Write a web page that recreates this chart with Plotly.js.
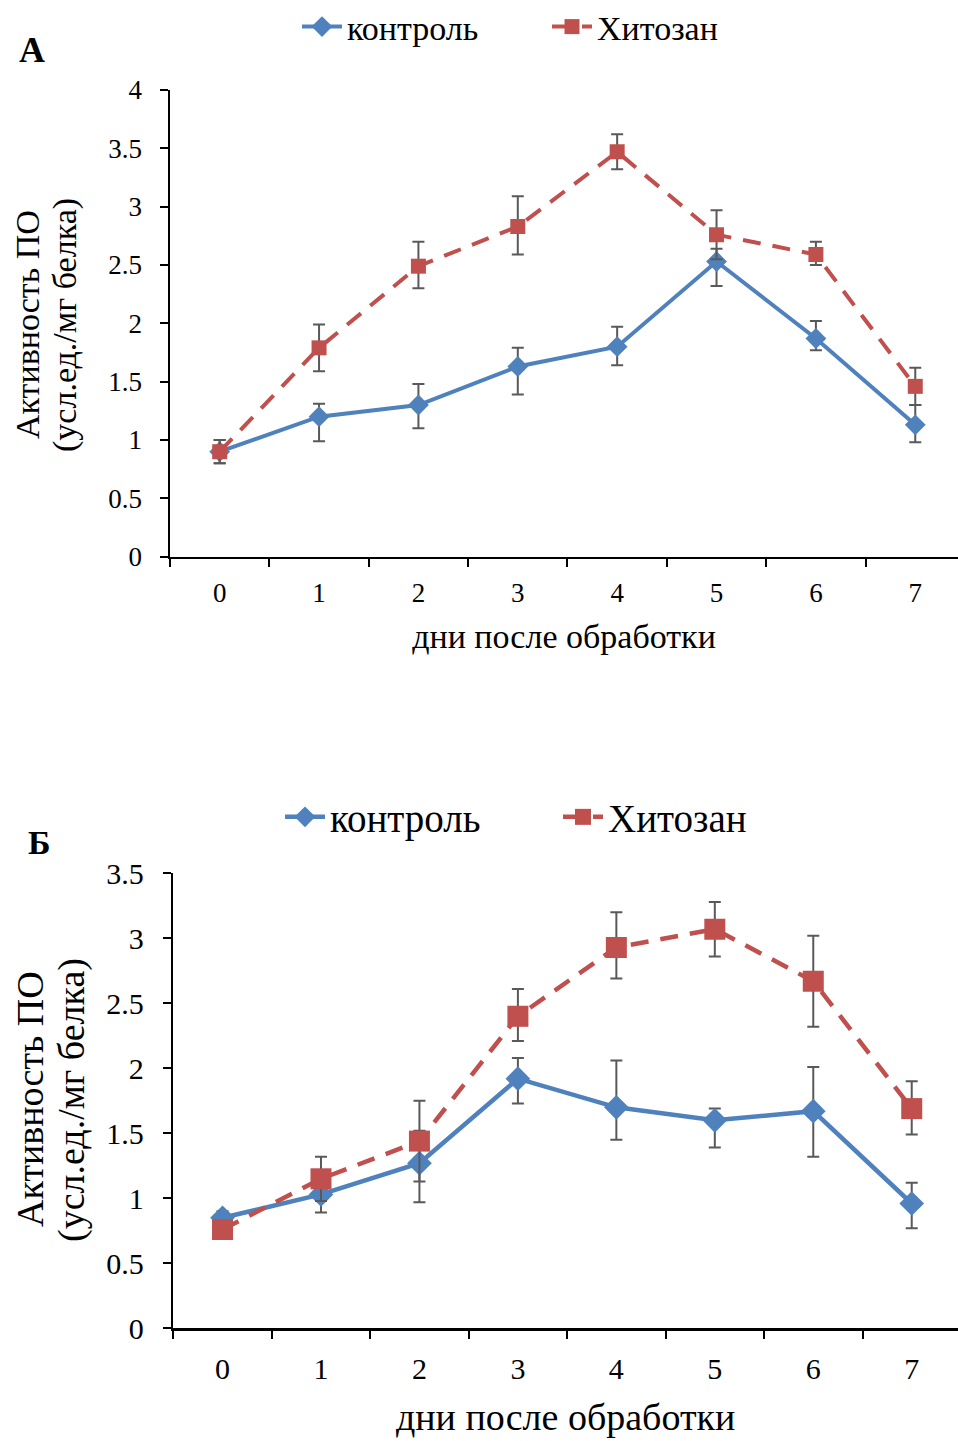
<!DOCTYPE html>
<html>
<head>
<meta charset="utf-8">
<script src="https://cdn.plot.ly/plotly-3.0.1.min.js"></script>
<style>html,body{margin:0;padding:0;background:#fff}#chart{width:958px;height:1441px}</style>
</head>
<body>
<div id="chart"></div>
<script>
// ---- data ----
var days = ['0','1','2','3','4','5','6','7'];

// Panel A
var ctrlA      = [0.90, 1.20, 1.30, 1.63, 1.80, 2.53, 1.87, 1.13];
var ctrlAplus  = [0.10, 0.11, 0.18, 0.16, 0.17, 0.11, 0.15, 0.17];
var ctrlAminus = [0.10, 0.21, 0.20, 0.24, 0.16, 0.21, 0.10, 0.15];
var chitA      = [0.90, 1.79, 2.49, 2.83, 3.47, 2.76, 2.59, 1.46];
var chitAplus  = [0.10, 0.20, 0.21, 0.26, 0.15, 0.21, 0.11, 0.16];
var chitAminus = [0.10, 0.20, 0.19, 0.24, 0.15, 0.21, 0.09, 0.16];

// Panel B
var ctrlB      = [0.85, 1.03, 1.27, 1.92, 1.70, 1.60, 1.67, 0.96];
var ctrlBplus  = [0.05, 0.14, 0.25, 0.16, 0.36, 0.09, 0.34, 0.16];
var ctrlBminus = [0.05, 0.14, 0.30, 0.19, 0.25, 0.21, 0.35, 0.19];
var chitB      = [0.76, 1.15, 1.44, 2.40, 2.93, 3.07, 2.67, 1.69];
var chitBplus  = [0.05, 0.17, 0.31, 0.21, 0.27, 0.21, 0.35, 0.21];
var chitBminus = [0.05, 0.17, 0.31, 0.19, 0.24, 0.21, 0.35, 0.20];

var nameCtrl = 'контроль';
var nameChit = 'Хитозан';
var xTitle = 'дни после обработки';
var yTitle1 = 'Активность ПО';
var yTitle2 = '(усл.ед./мг белка)';

// ---- styles ----
var BLUE = '#4F81BD', RED = '#C0504D', ERR = '#595959';
var FONT = '"Liberation Serif", "Times New Roman", serif';

function err(plus, minus){
  return {type:'data', symmetric:false, array:plus, arrayminus:minus,
          color:ERR, thickness:2, width:6};
}

var traces = [
  {x:days, y:ctrlA, xaxis:'x', yaxis:'y', name:nameCtrl, mode:'lines+markers',
   line:{color:BLUE, width:4}, marker:{symbol:'diamond', size:16, color:BLUE},
   error_y:err(ctrlAplus, ctrlAminus), legend:'legend'},
  {x:days, y:chitA, xaxis:'x', yaxis:'y', name:nameChit, mode:'lines+markers',
   line:{color:RED, width:4, dash:'18px,12px'}, marker:{symbol:'square', size:15, color:RED},
   error_y:err(chitAplus, chitAminus), legend:'legend'},
  {x:days, y:ctrlB, xaxis:'x2', yaxis:'y2', name:nameCtrl, mode:'lines+markers',
   line:{color:BLUE, width:4.5}, marker:{symbol:'diamond', size:19, color:BLUE},
   error_y:err(ctrlBplus, ctrlBminus), legend:'legend2'},
  {x:days, y:chitB, xaxis:'x2', yaxis:'y2', name:nameChit, mode:'lines+markers',
   line:{color:RED, width:4.5, dash:'18px,12px'}, marker:{symbol:'square', size:21, color:RED},
   error_y:err(chitBplus, chitBminus), legend:'legend2'}
];

var H = 1441, W = 958;
function py(px){ return 1 - px/H; }
function pxx(px){ return px/W; }

function xax(domain, range, anchor, tsize, tstand, titsize, titstand){
  return {domain:domain, range:range, type:'category', anchor:anchor,
    showline:true, linecolor:'#000', linewidth:2.5, ticks:'outside', ticklen:8,
    tickwidth:2, tickcolor:'#000', tickson:'boundaries', showgrid:false, zeroline:false,
    tickfont:{family:FONT, size:tsize, color:'#000'}, ticklabelstandoff:tstand, fixedrange:true,
    title:{text:xTitle, font:{family:FONT, size:titsize, color:'#000'}, standoff:titstand}};
}
function yax(domain, range, anchor, tsize, tstand){
  return {domain:domain, range:range, dtick:0.5, anchor:anchor,
    showline:true, linecolor:'#000', linewidth:2.5, ticks:'outside', ticklen:8,
    tickwidth:2, tickcolor:'#000', showgrid:false, zeroline:false,
    tickfont:{family:FONT, size:tsize, color:'#000'}, ticklabelstandoff:tstand, fixedrange:true};
}
function ann(text, x, y, size, angle, bold){
  return {text: bold ? '<b>'+text+'</b>' : text, xref:'paper', yref:'paper',
    x:pxx(x), y:py(y), showarrow:false, textangle:angle||0,
    font:{family:FONT, size:size, color:'#000'}, xanchor:'center', yanchor:'middle'};
}

var layout = {
  width:W, height:H, paper_bgcolor:'#fff', plot_bgcolor:'#fff',
  margin:{l:0, r:0, t:0, b:0, autoexpand:false},
  font:{family:FONT, color:'#000'},
  xaxis: xax([pxx(170),1], [-0.5, 7.43], 'y', 27, 10, 34, 18),
  yaxis: yax([py(556.7), py(90)], [0,4], 'x', 27, 12),
  xaxis2: xax([pxx(173.3),1], [-0.5, 7.47], 'y2', 30, 12, 38, 20),
  yaxis2: yax([py(1328.3), py(873.3)], [0,3.5], 'x2', 30, 13),
  legend:{orientation:'h', x:pxx(297), y:py(27), xanchor:'left', yanchor:'middle',
    font:{family:FONT, size:34, color:'#000'}, bgcolor:'rgba(0,0,0,0)', itemwidth:40,
    entrywidth:195, entrywidthmode:'pixels'},
  legend2:{orientation:'h', x:pxx(280), y:py(817), xanchor:'left', yanchor:'middle',
    font:{family:FONT, size:39, color:'#000'}, bgcolor:'rgba(0,0,0,0)', itemwidth:40,
    entrywidth:223, entrywidthmode:'pixels'},
  annotations:[
    ann('А', 32, 50, 36, 0, true),
    ann('Б', 39, 842, 34, 0, true),
    ann(yTitle1, 27, 325, 34, -90),
    ann(yTitle2, 65, 325, 34, -90),
    ann(yTitle1, 30, 1099, 38, -90),
    ann(yTitle2, 71, 1100, 38, -90)
  ]
};

Plotly.newPlot('chart', traces, layout, {staticPlot:true, displayModeBar:false});
</script>
</body>
</html>
